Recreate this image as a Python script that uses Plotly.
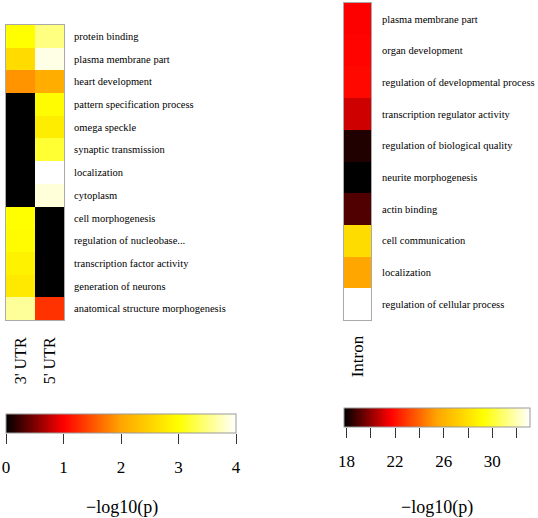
import plotly.graph_objects as go

W, H = 538, 518

# ---- data ----
left_terms = [
    "protein binding", "plasma membrane part", "heart development",
    "pattern specification process", "omega speckle", "synaptic transmission",
    "localization", "cytoplasm", "cell morphogenesis",
    "regulation of nucleobase...", "transcription factor activity",
    "generation of neurons", "anatomical structure morphogenesis",
]
left_cols = ["3' UTR", "5' UTR"]
utr3_vals = [3.0, 2.6, 1.9, 0.0, 0.0, 0.0, 0.0, 0.0, 3.0, 2.95, 2.85, 2.75, 3.6]
utr5_vals = [3.5, 3.9, 2.1, 2.95, 2.8, 3.2, 4.0, 3.85, 0.0, 0.0, 0.0, 0.0, 1.3]

right_terms = [
    "plasma membrane part", "organ development",
    "regulation of developmental process", "transcription regulator activity",
    "regulation of biological quality", "neurite morphogenesis", "actin binding",
    "cell communication", "localization", "regulation of cellular process",
]
right_cols = ["Intron"]
intron_vals = [21.6, 21.7, 21.8, 20.9, 18.3, 17.8, 19.0, 27.8, 25.5, 33.1]

left_range = [0, 4]
right_range = [17.8, 33.1]
left_ticks = [0, 1, 2, 3, 4]
left_ticklabels = ["0", "1", "2", "3", "4"]
right_ticks = [18, 20, 22, 24, 26, 28, 30, 32]
right_ticklabels = ["18", "", "22", "", "26", "", "30", ""]

heat = [[0.0, "#000000"], [0.25, "#FF0000"], [0.5, "#FFA500"],
        [0.75, "#FFFF00"], [1.0, "#FFFFFF"]]

FONT = "Liberation Serif"

def px_x(p):
    return p / W

def px_y(p):
    return 1 - p / H

# colorbar geometry (pixels)
LCB = dict(x0=6, x1=236, top=413.5, thick=19)
RCB = dict(x0=344, x1=530, top=408, thick=19)

fig = go.Figure()

def cbar(g):
    return dict(
        orientation="h", lenmode="pixels", len=g["x1"] - g["x0"],
        thickness=g["thick"],
        x=px_x((g["x0"] + g["x1"]) / 2), xanchor="center",
        y=px_y(g["top"]), yanchor="top",
        xpad=0, ypad=0, outlinecolor="#999999", outlinewidth=1,
        ticks="", showticklabels=False,
    )

fig.add_trace(go.Heatmap(
    z=[[a, b] for a, b in zip(utr3_vals, utr5_vals)],
    x=left_cols, y=left_terms,
    zmin=left_range[0], zmax=left_range[1],
    colorscale=heat, xaxis="x", yaxis="y",
    colorbar=cbar(LCB), hoverinfo="skip",
))

fig.add_trace(go.Heatmap(
    z=[[v] for v in intron_vals],
    x=right_cols, y=right_terms,
    zmin=right_range[0], zmax=right_range[1],
    colorscale=heat, xaxis="x2", yaxis="y2",
    colorbar=cbar(RCB), hoverinfo="skip",
))

# invisible carriers so that the colour-scale axes are drawn
for xa, ya, rng in (("x3", "y3", left_range), ("x4", "y4", right_range)):
    fig.add_trace(go.Scatter(
        x=rng, y=[0.5, 0.5], xaxis=xa, yaxis=ya, mode="markers",
        marker=dict(opacity=0), hoverinfo="skip", showlegend=False,
    ))

axis_common = dict(showline=True, linecolor="#aaaaaa", linewidth=1, mirror=True,
                   showgrid=False, zeroline=False, fixedrange=True)

def scale_axis(g, rng, vals, texts):
    return dict(domain=[px_x(g["x0"]), px_x(g["x1"])], range=rng,
                tickmode="array", tickvals=vals, ticktext=texts,
                ticks="outside", ticklen=10, tickcolor="#333333", tickwidth=1,
                ticklabelstandoff=9, showline=False, showgrid=False,
                zeroline=False, fixedrange=True, side="bottom",
                tickfont=dict(family=FONT, size=17, color="#000000"))

def band(g):
    bottom = g["top"] + g["thick"]
    return dict(domain=[px_y(bottom), px_y(g["top"])], showline=False,
                showgrid=False, zeroline=False, showticklabels=False,
                ticks="", fixedrange=True, range=[0, 1])

fig.update_layout(
    width=W, height=H, showlegend=False,
    margin=dict(l=0, r=0, t=0, b=0, autoexpand=False),
    paper_bgcolor="white", plot_bgcolor="rgba(0,0,0,0)",
    font=dict(family=FONT, color="#000000"),
    xaxis=dict(domain=[px_x(6), px_x(64)], anchor="y", tickangle=-90,
               ticks="", ticklabelstandoff=10,
               tickfont=dict(family=FONT, size=16), **axis_common),
    yaxis=dict(domain=[px_y(320), px_y(25)], anchor="x", side="right",
               autorange="reversed", ticks="", ticklabelstandoff=7,
               tickfont=dict(family=FONT, size=10.5), **axis_common),
    xaxis2=dict(domain=[px_x(344), px_x(371)], anchor="y2", tickangle=-90,
                ticks="", ticklabelstandoff=8,
                tickfont=dict(family=FONT, size=17), **axis_common),
    yaxis2=dict(domain=[px_y(320), px_y(3)], anchor="x2", side="right",
                autorange="reversed", ticks="", ticklabelstandoff=8,
                tickfont=dict(family=FONT, size=10.5), **axis_common),
    xaxis3=dict(anchor="y3", **scale_axis(LCB, left_range, left_ticks, left_ticklabels)),
    yaxis3=dict(anchor="x3", **band(LCB)),
    xaxis4=dict(anchor="y4", **scale_axis(RCB, right_range, right_ticks, right_ticklabels)),
    yaxis4=dict(anchor="x4", **band(RCB)),
    annotations=[
        dict(text="\u2212log10(p)", x=px_x(122), y=px_y(507), xref="paper",
             yref="paper", showarrow=False, xanchor="center", yanchor="middle",
             font=dict(family=FONT, size=18)),
        dict(text="\u2212log10(p)", x=px_x(437), y=px_y(507), xref="paper",
             yref="paper", showarrow=False, xanchor="center", yanchor="middle",
             font=dict(family=FONT, size=18)),
    ],
)

fig.write_html(
    "out.html",
    config={"displayModeBar": False},
    post_script="document.body.style.margin='0';document.body.style.overflow='hidden';",
)
